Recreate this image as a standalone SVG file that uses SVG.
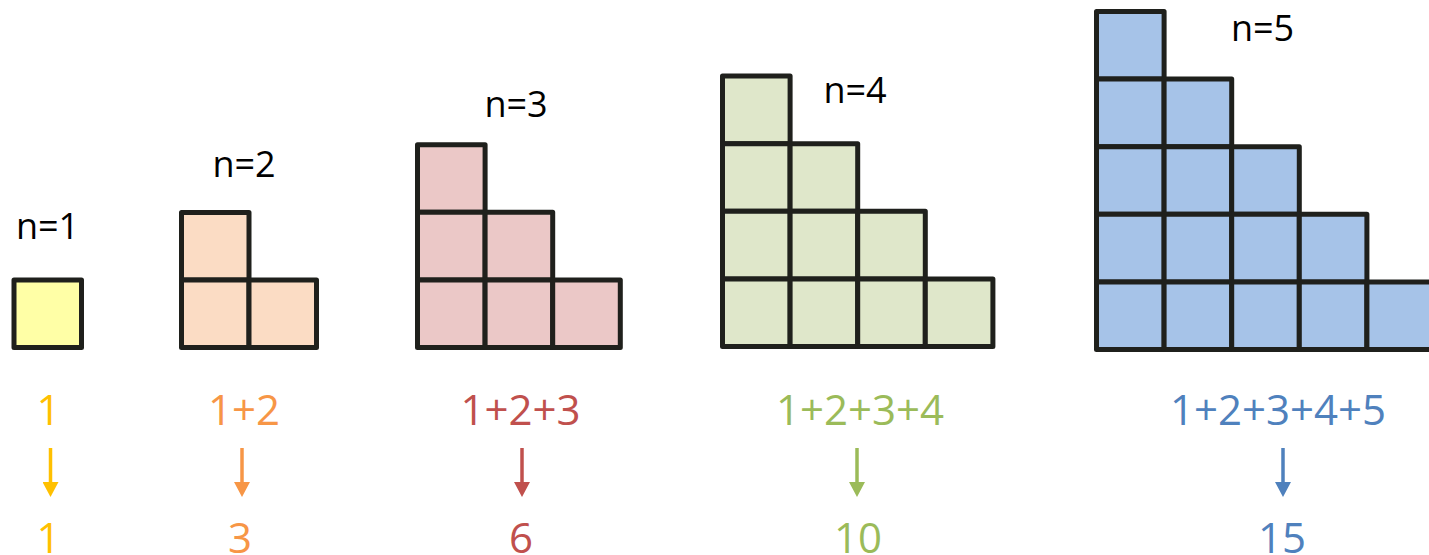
<svg xmlns="http://www.w3.org/2000/svg" width="1429" height="555" viewBox="0 0 1429 555">
<style>
  .c { stroke: #1f201c; stroke-width: 5; stroke-linejoin: round; }
  .c1 { fill: #FFFFA6; }
  .c2 { fill: #FBDCC4; }
  .c3 { fill: #EBC8C7; }
  .c4 { fill: #DFE7CA; }
  .c5 { fill: #A6C3E8; }
  .lbl { font-family: "Open Sans", "Liberation Sans", sans-serif; font-size: 36px; fill: #000; text-anchor: middle; }
  .num { font-family: "Open Sans", "Liberation Sans", sans-serif; font-size: 42px; text-anchor: middle; }
  .y { fill: #FFC000; } .o { fill: #F79646; } .r { fill: #C0504D; } .g { fill: #9BBB59; } .b { fill: #4F81BD; }
  .arr { stroke-width: 3.5; fill: none; }
</style>
<defs>
  <marker id="ay" viewBox="0 0 15 16" refX="0" refY="8" markerWidth="15" markerHeight="16" markerUnits="userSpaceOnUse" orient="auto"><path d="M0,0 L15,8 L0,16 z" fill="#FFC000"/></marker>
  <marker id="ao" viewBox="0 0 15 16" refX="0" refY="8" markerWidth="15" markerHeight="16" markerUnits="userSpaceOnUse" orient="auto"><path d="M0,0 L15,8 L0,16 z" fill="#F79646"/></marker>
  <marker id="ar" viewBox="0 0 15 16" refX="0" refY="8" markerWidth="15" markerHeight="16" markerUnits="userSpaceOnUse" orient="auto"><path d="M0,0 L15,8 L0,16 z" fill="#C0504D"/></marker>
  <marker id="ag" viewBox="0 0 15 16" refX="0" refY="8" markerWidth="15" markerHeight="16" markerUnits="userSpaceOnUse" orient="auto"><path d="M0,0 L15,8 L0,16 z" fill="#9BBB59"/></marker>
  <marker id="ab" viewBox="0 0 15 16" refX="0" refY="8" markerWidth="15" markerHeight="16" markerUnits="userSpaceOnUse" orient="auto"><path d="M0,0 L15,8 L0,16 z" fill="#4F81BD"/></marker>
</defs>

<g id="n1">
  <text class="lbl" x="47.5" y="239">n=1</text>
  <rect class="c c1" x="14" y="280" width="67.5" height="67.5"/>
  <text class="num y" x="48.5" y="425">1</text>
  <text class="num y" x="48.5" y="553">1</text>
</g>

<g id="n2">
  <text class="lbl" x="244" y="177">n=2</text>
  <rect class="c c2" x="181.5" y="212.5" width="67.5" height="67.5"/>
  <rect class="c c2" x="181.5" y="280" width="67.5" height="67.5"/>
  <rect class="c c2" x="249" y="280" width="67.5" height="67.5"/>
  <text class="num o" x="244" y="425">1+2</text>
  <text class="num o" x="240" y="553">3</text>
</g>

<g id="n3">
  <text class="lbl" x="516" y="117">n=3</text>
  <rect class="c c3" x="417.5" y="144.7" width="67.6" height="67.6"/>
  <rect class="c c3" x="417.5" y="212.3" width="67.6" height="67.6"/>
  <rect class="c c3" x="485.1" y="212.3" width="67.6" height="67.6"/>
  <rect class="c c3" x="417.5" y="279.9" width="67.6" height="67.6"/>
  <rect class="c c3" x="485.1" y="279.9" width="67.6" height="67.6"/>
  <rect class="c c3" x="552.7" y="279.9" width="67.6" height="67.6"/>
  <text class="num r" x="520.5" y="425">1+2+3</text>
  <text class="num r" x="521" y="553">6</text>
</g>

<g id="n4">
  <text class="lbl" x="855" y="103">n=4</text>
  <rect class="c c4" x="722.5" y="76.1" width="67.6" height="67.6"/>
  <rect class="c c4" x="722.5" y="143.7" width="67.6" height="67.6"/>
  <rect class="c c4" x="790.1" y="143.7" width="67.6" height="67.6"/>
  <rect class="c c4" x="722.5" y="211.3" width="67.6" height="67.6"/>
  <rect class="c c4" x="790.1" y="211.3" width="67.6" height="67.6"/>
  <rect class="c c4" x="857.7" y="211.3" width="67.6" height="67.6"/>
  <rect class="c c4" x="722.5" y="278.9" width="67.6" height="67.6"/>
  <rect class="c c4" x="790.1" y="278.9" width="67.6" height="67.6"/>
  <rect class="c c4" x="857.7" y="278.9" width="67.6" height="67.6"/>
  <rect class="c c4" x="925.3" y="278.9" width="67.6" height="67.6"/>
  <text class="num g" x="860" y="425">1+2+3+4</text>
  <text class="num g" x="858" y="553">10</text>
</g>

<g id="n5">
  <text class="lbl" x="1262.5" y="41">n=5</text>
  <rect class="c c5" x="1096.5" y="11.5" width="67.6" height="67.6"/>
  <rect class="c c5" x="1096.5" y="79.1" width="67.6" height="67.6"/>
  <rect class="c c5" x="1164.1" y="79.1" width="67.6" height="67.6"/>
  <rect class="c c5" x="1096.5" y="146.7" width="67.6" height="67.6"/>
  <rect class="c c5" x="1164.1" y="146.7" width="67.6" height="67.6"/>
  <rect class="c c5" x="1231.7" y="146.7" width="67.6" height="67.6"/>
  <rect class="c c5" x="1096.5" y="214.3" width="67.6" height="67.6"/>
  <rect class="c c5" x="1164.1" y="214.3" width="67.6" height="67.6"/>
  <rect class="c c5" x="1231.7" y="214.3" width="67.6" height="67.6"/>
  <rect class="c c5" x="1299.3" y="214.3" width="67.6" height="67.6"/>
  <rect class="c c5" x="1096.5" y="281.9" width="67.6" height="67.6"/>
  <rect class="c c5" x="1164.1" y="281.9" width="67.6" height="67.6"/>
  <rect class="c c5" x="1231.7" y="281.9" width="67.6" height="67.6"/>
  <rect class="c c5" x="1299.3" y="281.9" width="67.6" height="67.6"/>
  <rect class="c c5" x="1366.9" y="281.9" width="67.6" height="67.6"/>
  <text class="num b" x="1278" y="425">1+2+3+4+5</text>
  <text class="num b" x="1282" y="553">15</text>
</g>

<g id="connectors">
  <line class="arr" x1="50.5" y1="448" x2="50.5" y2="482" stroke="#FFC000" marker-end="url(#ay)"/>
  <line class="arr" x1="242" y1="448" x2="242" y2="482" stroke="#F79646" marker-end="url(#ao)"/>
  <line class="arr" x1="522" y1="448" x2="522" y2="482" stroke="#C0504D" marker-end="url(#ar)"/>
  <line class="arr" x1="857" y1="448" x2="857" y2="482" stroke="#9BBB59" marker-end="url(#ag)"/>
  <line class="arr" x1="1283" y1="448" x2="1283" y2="482" stroke="#4F81BD" marker-end="url(#ab)"/>
</g>
</svg>
